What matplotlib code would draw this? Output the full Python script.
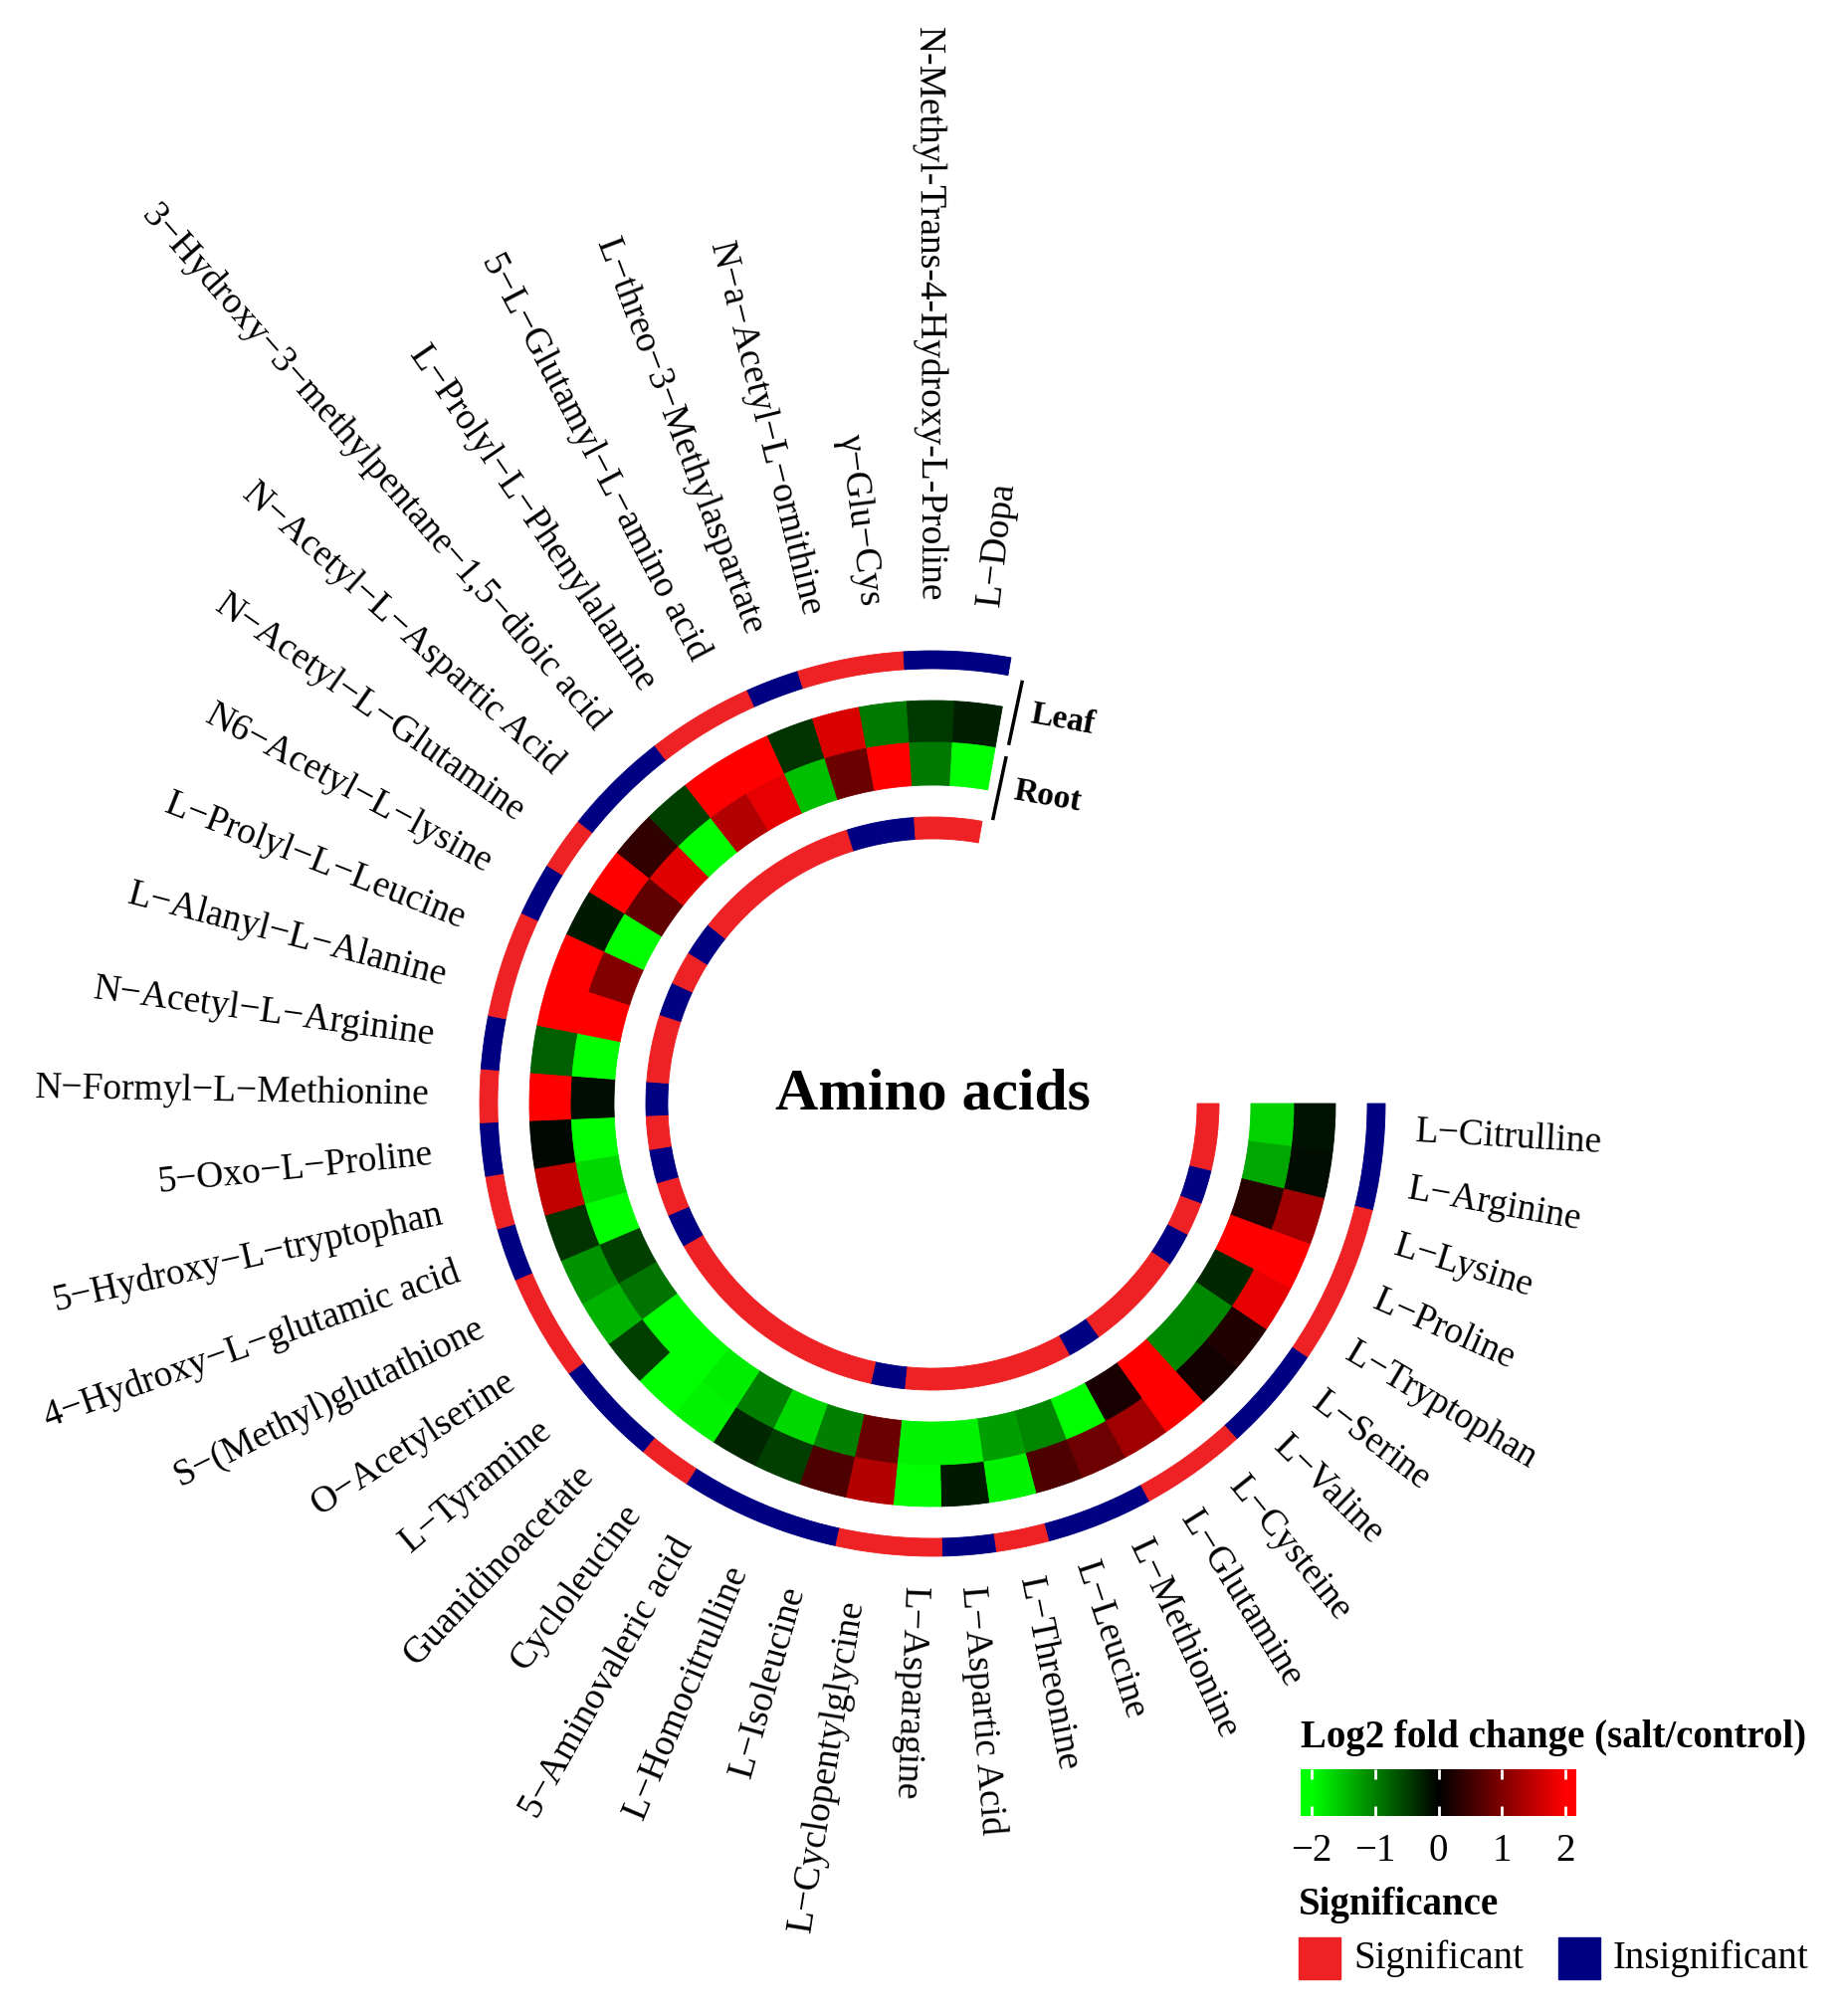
import numpy as np
import matplotlib
matplotlib.use("Agg")
import matplotlib.pyplot as plt
from matplotlib.colors import LinearSegmentedColormap, Normalize
from matplotlib.patches import Rectangle

plt.rcParams['font.family'] = ['Liberation Serif', 'DejaVu Serif']

M = "\u2212"
metabolites = [
    f"L{M}Citrulline", f"L{M}Arginine", f"L{M}Lysine", f"L{M}Proline", f"L{M}Tryptophan",
    f"L{M}Serine", f"L{M}Valine", f"L{M}Cysteine", f"L{M}Glutamine", f"L{M}Methionine",
    f"L{M}Leucine", f"L{M}Threonine", f"L{M}Aspartic Acid", f"L{M}Asparagine",
    f"L{M}Cyclopentylglycine", f"L{M}Isoleucine", f"L{M}Homocitrulline",
    f"5{M}Aminovaleric acid", "Cycloleucine", "Guanidinoacetate", f"L{M}Tyramine",
    f"O{M}Acetylserine", f"S{M}(Methyl)glutathione", f"4{M}Hydroxy{M}L{M}glutamic acid",
    f"5{M}Hydroxy{M}L{M}tryptophan", f"5{M}Oxo{M}L{M}Proline", f"N{M}Formyl{M}L{M}Methionine",
    f"N{M}Acetyl{M}L{M}Arginine", f"L{M}Alanyl{M}L{M}Alanine", f"L{M}Prolyl{M}L{M}Leucine",
    f"N6{M}Acetyl{M}L{M}lysine", f"N{M}Acetyl{M}L{M}Glutamine", f"N{M}Acetyl{M}L{M}Aspartic Acid",
    f"3{M}Hydroxy{M}3{M}methylpentane{M}1,5{M}dioic acid", f"L{M}Prolyl{M}L{M}Phenylalanine",
    f"5{M}L{M}Glutamyl{M}L{M}amino acid", f"L{M}threo{M}3{M}Methylaspartate",
    f"N{M}a{M}Acetyl{M}L{M}ornithine", f"\u03b3{M}Glu{M}Cys",
    "N-Methyl-Trans-4-Hydroxy-L-Proline", f"L{M}Dopa",
]

# log2 fold change (salt/control)
leaf_fc = [-0.15, -0.1, 1.25, 2.0, 1.8, 0.25, 0.15, 2.0, 1.25, 0.85,
           0.6, -1.9, -0.2, -2.0, 1.4, 0.6, -0.5, -0.3, -1.9, -2.0,
           -0.5, -1.4, -1.15, -0.4, 1.5, -0.05, 2.0, -0.75, 2.0, 2.0,
           -0.2, 2.0, 0.38, -0.5, 2.0, 2.0, -0.4, 1.7, -0.95, -0.45, -0.25]
root_fc = [-1.65, -1.3, 0.3, 2.0, -0.3, -1.05, -1.05, 2.0, 0.2, -2.0,
           -1.05, -1.25, -1.9, -1.9, 0.83, -1.0, -1.7, -1.0, -1.85, -2.0,
           -2.0, -0.9, -0.5, -2.0, -1.7, -2.0, -0.1, -2.0, 2.0, 1.0,
           -2.0, 0.75, 1.75, -2.0, 1.4, 1.8, -1.5, 0.83, 2.0, -0.95, -2.0]

# 1 = significant, 0 = insignificant
leaf_sig = [0, 0, 1, 1, 1, 0, 0, 1, 1, 0, 0, 1, 0, 1, 1, 0, 0, 0, 1, 0, 0,
            1, 1, 0, 1, 0, 1, 0, 1, 1, 0, 1, 0, 0, 1, 1, 0, 1, 1, 0, 0]
root_sig = [1, 1, 0, 1, 0, 1, 1, 1, 0, 1, 1, 1, 1, 1, 0, 1, 1, 1, 1, 1, 1,
            1, 0, 1, 0, 1, 0, 1, 1, 0, 1, 0, 1, 1, 1, 1, 1, 0, 0, 1, 1]

cbar_ticks = [-2, -1, 0, 1, 2]

SIG_RED = "#ee2224"
SIG_BLUE = "#000082"

W, H = 1851, 2026
fig = plt.figure(figsize=(W / 100, H / 100), dpi=100)

def fx(x):
    return x / W

def fy(y):
    return 1 - y / H

cmap = LinearSegmentedColormap.from_list("gbr", ["#00ff00", "#000000", "#ff0000"])
norm = Normalize(-2, 2)

# polar axes, radius in pixels
cx, cy, R = 937, 1109, 470
ax = fig.add_axes([fx(cx - R), fy(cy + R), 2 * R / W, 2 * R / H], projection="polar")
ax.set_theta_zero_location("E")
ax.set_theta_direction(-1)
ax.set_ylim(0, R)
ax.axis("off")

n = len(metabolites)
span = 280.0
w = span / n
centers = (np.arange(n) + 0.5) * w
theta = np.deg2rad(centers)
wr = np.deg2rad(w)

def ring(r0, r1, colors):
    ax.bar(theta, r1 - r0, width=wr, bottom=r0, color=colors,
           edgecolor=colors, linewidth=0.6, align="center")

ring(437, 455, [SIG_RED if s else SIG_BLUE for s in leaf_sig])
ring(363, 405, [cmap(norm(v)) for v in leaf_fc])
ring(320, 363, [cmap(norm(v)) for v in root_fc])
ring(266, 288, [SIG_RED if s else SIG_BLUE for s in root_sig])

# metabolite labels (outward on the right, inward on the left)
for i, name in enumerate(metabolites):
    ang = -centers[i]
    if i < 14:
        ax.text(theta[i], 486, name, rotation=ang, rotation_mode="anchor",
                ha="left", va="center", fontsize=27, clip_on=False)
    elif i == n - 1:
        ax.text(theta[i], 503, name, rotation=ang, rotation_mode="anchor",
                ha="left", va="center", fontsize=27, clip_on=False)
    else:
        ax.text(theta[i], 505, name, rotation=ang + 180, rotation_mode="anchor",
                ha="right", va="center", fontsize=27, clip_on=False)

# track annotations
th_mark = np.deg2rad(-78)
ax.plot([th_mark, th_mark], [370, 433], color="black", lw=2.5, clip_on=False)
ax.plot([th_mark, th_mark], [293, 355], color="black", lw=2.5, clip_on=False)
ax.text(np.deg2rad(-71.2), 407, "Leaf", rotation=-10, rotation_mode="anchor",
        ha="center", va="center", fontsize=24, fontweight="bold", clip_on=False)
ax.text(np.deg2rad(-69.4), 330, "Root", rotation=-10, rotation_mode="anchor",
        ha="center", va="center", fontsize=24, fontweight="bold", clip_on=False)

fig.text(fx(937), fy(1100), "Amino acids", ha="center", va="center",
         fontsize=43, fontweight="bold")

# colour legend
fig.text(fx(1307), fy(1756), "Log2 fold change (salt/control)", ha="left",
         va="baseline", fontsize=28, fontweight="bold")
cax = fig.add_axes([fx(1307), fy(1825), 277 / W, 47 / H])
grad = np.linspace(-2.17, 2.17, 300)[None, :]
cax.imshow(grad, extent=[-2.17, 2.17, 0, 1], aspect="auto", cmap=cmap, norm=norm)
cax.set_xlim(-2.17, 2.17)
cax.set_yticks([])
cax.set_xticks(cbar_ticks)
cax.set_xticklabels([str(t).replace("-", M) for t in cbar_ticks])
cax.tick_params(axis="x", direction="in", length=7, width=2, color="white",
                top=True, bottom=True, labelsize=28, pad=12)
for s in cax.spines.values():
    s.set_visible(False)

# significance legend
fig.text(fx(1305), fy(1924), "Significance", ha="left", va="baseline",
         fontsize=28, fontweight="bold")
for x0, col, lab in [(1305, SIG_RED, "Significant"), (1566, SIG_BLUE, "Insignificant")]:
    fig.add_artist(Rectangle((fx(x0), fy(1989)), 42 / W, 42 / H,
                             transform=fig.transFigure, color=col))
    fig.text(fx(x0 + 55), fy(1968), lab, ha="left", va="center", fontsize=28)

fig.savefig("out.png", dpi=100, facecolor="white")
